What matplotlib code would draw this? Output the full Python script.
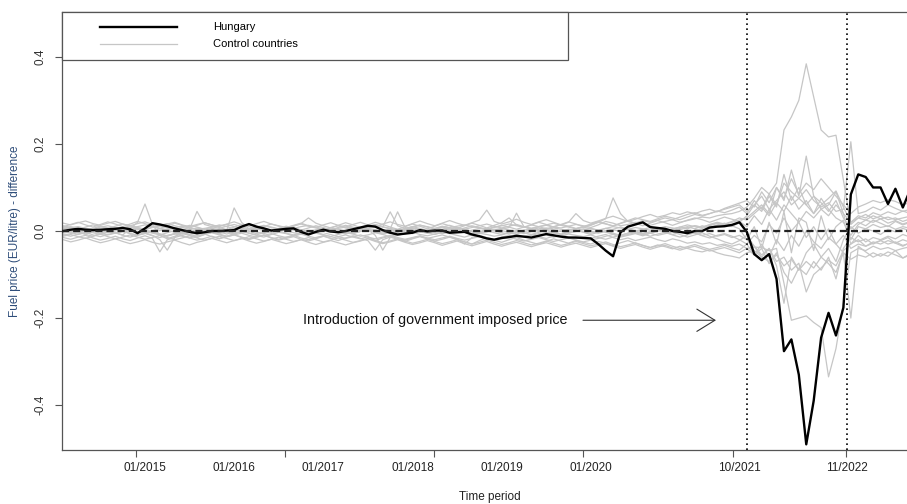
#!/usr/bin/env python3
'''fuel price difference: Hungary vs control countries'''

import numpy as np
import matplotlib
matplotlib.use('Agg')

import matplotlib.pyplot as plt
from matplotlib.patches import Rectangle, FancyArrowPatch

plt.rcParams['font.family'] = ['Liberation Sans', 'DejaVu Sans']

# months counted from 01/2015 (0 = Jan 2015), 02/2014 .. 08/2023
months = np.arange(-11, 104)

# price differences in thousandths of EUR per litre
hungary = [
    0, 3, 5, 3, 2, 3, 4, 5, 7, 4,
    -5, 6, 18, 15, 11, 6, 2, -2, -5, -3,
    0, 0, 1, 2, 10, 16, 10, 6, 1, 3,
    5, 6, -2, -8, -2, 3, -1, -3, 0, 4,
    8, 12, 10, 2, -4, -8, -6, -4, 2, -1,
    1, 1, -4, -3, -2, -8, -12, -17, -20, -16,
    -14, -11, -13, -15, -11, -7, -10, -13, -15, -15,
    -16, -17, -30, -45, -58, -3, 10, 15, 20, 9,
    7, 5, 0, -2, -5, 0, 0, 8, 10, 11,
    14, 20, -2, -53, -67, -53, -110, -276, -249, -330,
    -490, -390, -245, -188, -240, -176, 84, 130, 124, 100,
    100, 62, 97, 54, 95,
]

control_1 = [
    5, 8, 10, 6, 4, 9, 12, 8, 5, 7,
    10, 14, 9, 6, 3, 8, 11, 7, 4, 6,
    9, 12, 15, 10, 6, 4, 8, 11, 9, 5,
    3, 6, 10, 13, 9, 5, 2, 6, 9, 7,
    4, 8, 12, 9, 6, 3, 5, 9, 13, 10,
    6, 4, 8, 11, 14, 10, 7, 5, 9, 12,
    16, 12, 9, 6, 10, 13, 9, 7, 11, 15,
    12, 8, 14, 22, 18, 12, 15, 20, 17, 13,
    18, 22, 26, 20, 24, 28, 32, 30, 35, 38,
    40, 45, 55, 75, 100, 85, 110, 232, 262, 300,
    384, 308, 232, 216, 220, 117, 15, 30, 25, 35,
    28, 32, 26, 30, 34,
]
control_2 = [
    -5, -2, 3, 1, -4, -8, -3, 2, 0, -6,
    -9, -4, 1, 5, 2, -3, -7, -2, 4, 1,
    -3, -6, -1, 3, 0, -5, -9, -4, 2, 5,
    1, -4, -7, -2, 3, 6, 1, -3, -6, -1,
    4, 2, -3, -7, -4, 0, 5, 2, -2, -5,
    -1, 3, 6, 2, -3, -6, -2, 4, 1, -4,
    -7, -3, 2, 5, 1, -3, -5, 0, 4, 2,
    -2, -5, 0, 6, 3, -1, 4, 8, 5, 2,
    6, 10, 7, 3, 8, 12, 9, 14, 18, 15,
    20, 25, 30, 45, 60, 40, 100, 70, 140, 80,
    172, 80, 50, 60, 90, 40, -20, 10, 5, 15,
    8, 12, 4, 10, 6,
]
control_3 = [
    -10, -6, -2, -8, -12, -5, 0, -4, -9, 5,
    20, 62, 15, -10, -18, -12, -6, -10, -15, -8,
    -3, -7, -12, -6, -1, -5, -10, -14, -8, -3,
    -6, -11, -7, -2, -5, -9, -13, -8, -4, -7,
    -12, -9, -4, -8, -13, -10, -6, -3, -8, -11,
    -7, -3, -6, -10, -14, -9, -5, -8, -12, -9,
    -4, -8, -13, -10, -6, -9, -14, -11, -7, -10,
    -13, -17, -12, -8, -15, -20, -16, -22, -18, -14,
    -20, -24, -18, -22, -28, -25, -30, -27, -33, -30,
    -35, -30, -40, -37, -38, -45, -40, -120, -205, -200,
    -195, -210, -222, -335, -270, -166, -50, -40, -45, -35,
    -42, -38, -45, -40, -36,
]
control_4 = [
    8, 3, -2, 2, 6, 1, -4, 0, 5, 9,
    4, -1, -5, -9, -4, 1, -3, -8, -4, 2,
    6, 3, -2, -6, -1, 4, 8, 3, -2, 1,
    5, 2, -3, -7, -2, 3, 7, 4, -1, -5,
    -1, 3, -10, -44, -15, -3, 2, 6, 1, -4,
    -8, -3, 2, 6, 3, -2, -6, -1, 4, 1,
    -3, -7, -2, 3, 7, 2, -4, -8, -3, 1,
    5, 0, -5, -1, 4, 9, 5, 0, -6, -2,
    3, -3, -8, -4, 2, -5, -10, -6, -12, -8,
    -15, -10, -20, -35, -55, -40, -70, -60, -90, -74,
    -140, -100, -85, -67, -80, -45, -30, -20, -35, -28,
    -22, -30, -25, -33, -28,
]
control_5 = [
    -3, 1, 4, 0, -3, 2, 6, 3, -1, 2,
    5, 1, -3, -7, -12, -6, -1, 3, 7, 4,
    0, -4, 2, 53, 20, 5, -2, -6, -1, 3,
    7, 3, -1, -5, 0, 4, 1, -3, -7, -2,
    2, 6, 3, -2, -6, -2, 3, 7, 4, 0,
    -4, 0, 5, 8, 4, -1, -5, -2, 3, 6,
    2, -2, -6, -1, 4, 7, 3, -1, -5, -1,
    3, 6, 2, -3, -7, -12, -8, -4, -9, -5,
    -10, -6, -2, -8, -14, -9, -4, -12, -18, -25,
    -30, -22, -10, -35, -60, -40, -80, -166, -60, -90,
    -50, -30, -60, -40, -70, -20, 10, -5, 5, 0,
    -8, 4, -2, 6, 0,
]
control_6 = [
    12, 8, 4, 9, 14, 10, 6, 11, 16, 12,
    8, 4, 9, 13, 17, 12, 8, 4, 45, 15,
    10, 6, 11, 15, 10, 5, 9, 13, 8, 4,
    8, 12, 16, 11, 7, 3, 8, 12, 7, 3,
    7, 11, 15, 10, 44, 12, 6, 10, 14, 9,
    5, 9, 13, 8, 4, 8, 12, 16, 11, 7,
    11, 15, 10, 6, 10, 14, 18, 13, 9, 5,
    9, 13, 20, 28, 76, 40, 22, 18, 24, 20,
    25, 30, 26, 32, 38, 42, 36, 40, 45, 50,
    55, 60, 45, 60, 80, 50, 70, 90, 60, 75,
    95, 70, 55, 65, 45, 50, 205, 40, 45, 55,
    48, 60, 52, 45, 50,
]
control_7 = [
    -15, -19, -14, -10, -16, -21, -17, -12, -18, -22,
    -16, -11, -17, -48, -20, -15, -10, -16, -21, -17,
    -12, -18, -13, -9, -15, -20, -14, -10, -16, -21,
    -17, -13, -19, -23, -18, -12, -17, -22, -16, -11,
    -17, -22, -44, -20, -14, -19, -24, -18, -13, -18,
    -23, -19, -14, -20, -25, -30, -22, -16, -21, -26,
    -20, -15, -21, -26, -31, -24, -18, -23, -28, -22,
    -26, -30, -24, -28, -34, -27, -22, -28, -33, -38,
    -32, -36, -41, -35, -40, -45, -48, -43, -50, -55,
    -58, -62, -50, -45, -60, -70, -55, -80, -65, -90,
    -70, -85, -60, -75, -95, -50, -200, -35, -48, -60,
    -52, -58, -45, -62, -55,
]
control_8 = [
    2, -1, -4, 1, 5, 2, -2, -5, -1, 3,
    6, 2, -2, 1, 4, 8, 4, 0, -3, 1,
    4, 1, -3, -6, -2, 2, 5, 1, -3, 0,
    3, 7, 3, -1, -4, 0, 4, 1, -2, 2,
    6, 2, -2, 1, 5, 44, 8, 2, -2, 1,
    5, 9, 5, 1, -2, 2, 6, 3, 0, 4,
    8, 41, 10, 3, -1, 3, 7, 4, 1, 5,
    9, 5, 2, 6, 10, 7, 3, 0, 4, 8,
    5, 1, 5, 9, 14, 10, 6, 12, 18, 15,
    10, 20, 35, 60, 45, 80, 55, 130, 70, 100,
    60, 40, 75, 50, 30, 20, -10, 15, 25, 20,
    28, 18, 24, 16, 22,
]
control_9 = [
    -8, -12, -7, -3, -9, -13, -8, -4, -10, -14,
    -9, -5, -11, -15, -10, -6, -12, -16, -11, -7,
    -13, -17, -12, -8, -14, -18, -13, -9, -15, -19,
    -14, -10, -16, -20, -15, -11, -17, -13, -9, -14,
    -18, -13, -22, -16, -12, -17, -21, -16, -12, -17,
    -13, -9, -14, -18, -30, -15, -10, -15, -19, -14,
    -10, -15, -12, -8, -13, -17, -12, -8, -14, -18,
    -13, -9, -15, -19, -14, -10, -5, -1, -6, -2,
    3, -2, 4, 9, 5, 12, 8, 15, 20, 16,
    22, 30, 25, 40, 55, 35, 65, 45, 80, 50,
    70, 40, 60, 75, 92, 55, 20, 35, 30, 42,
    36, 44, 38, 46, 40,
]
control_10 = [
    18, 14, 19, 23, 17, 13, 18, 22, 16, 12,
    17, 21, 15, 11, 16, 20, 14, 10, 15, 19,
    14, 10, 16, 21, 15, 11, 17, 22, 16, 12,
    8, 13, 18, 12, 8, 14, 19, 13, 9, 15,
    20, 14, 10, 16, 21, 15, 11, 17, 23, 17,
    12, 18, 24, 18, 13, 19, 25, 48, 22, 16,
    21, 27, 20, 15, 21, 26, 20, 14, 20, 40,
    24, 18, 23, 29, 34, 28, 22, 27, 33, 38,
    32, 36, 42, 38, 44, 40, 46, 50, 44, 52,
    58, 64, 70, 55, 90, 65, 100, 75, 120, 85,
    110, 95, 120, 100, 80, 60, 40, 55, 62, 70,
    65, 72, 68, 60, 66,
]
control_11 = [
    -2, 2, -3, -7, -2, 3, -1, -5, 0, 4,
    -1, -5, -10, -20, -44, -15, 1, -3, -8, -3,
    2, -2, -7, -2, 3, -1, -6, -1, 4, 0,
    -5, -9, -4, 1, -3, -8, -3, 2, -2, -6,
    -1, 4, 0, -5, -1, 3, -2, -6, -2, 3,
    -1, -6, -2, 2, -2, -7, -3, 1, -4, -8,
    -3, 1, -4, -8, -3, 2, -3, -7, -2, 2,
    -3, -8, -3, 1, -5, -10, -5, -1, -7, -12,
    -7, -3, -9, -14, -9, -4, -11, -16, -10, -6,
    -12, -20, -30, -55, -40, -75, -50, -95, -120, -85,
    -100, -70, -90, -60, -110, -40, -15, -25, -18, -30,
    -22, -15, -28, -20, -26,
]
control_12 = [
    6, 10, 5, 1, 6, 11, 7, 2, 7, 12,
    8, 3, 8, 12, 7, 3, 8, 13, 9, 4,
    9, 14, 10, 5, 10, 15, 11, 6, 1, 6,
    11, 7, 2, 7, 12, 8, 3, 8, 13, 9,
    4, 9, 14, 10, 5, 0, 5, 10, 6, 1,
    6, 11, 7, 2, 7, 12, 8, 3, 8, 13,
    9, 4, 9, 14, 10, 5, 10, 15, 11, 6,
    10, 14, 20, 16, 12, 18, 24, 30, 26, 22,
    28, 34, 30, 26, 32, 38, 34, 40, 46, 42,
    48, 55, 40, 70, 50, 85, 60, 110, 90, 75,
    60, 80, 65, 45, 70, 30, 5, 20, 12, 25,
    18, 10, 22, 14, 20,
]
control_13 = [
    -20, -25, -21, -16, -22, -27, -23, -18, -24, -29,
    -25, -20, -26, -30, -25, -21, -27, -32, -26, -22,
    -17, -22, -27, -22, -17, -23, -28, -24, -19, -24,
    -29, -25, -20, -26, -31, -26, -22, -27, -32, -27,
    -23, -18, -24, -29, -25, -20, -26, -31, -27, -22,
    -27, -33, -28, -23, -29, -34, -29, -24, -30, -35,
    -30, -26, -31, -36, -31, -27, -32, -37, -32, -28,
    -33, -38, -33, -29, -35, -40, -35, -31, -37, -42,
    -37, -33, -39, -44, -39, -35, -41, -46, -42, -38,
    -44, -50, -40, -55, -30, -60, -20, -45, -10, -35,
    0, -25, -40, -15, -30, -50, -65, -55, -60, -50,
    -58, -48, -55, -62, -52,
]
control_14 = [
    1, -3, -8, -4, 0, -5, -9, -5, -1, -6,
    -10, -6, -2, -7, -11, -7, -3, -8, -12, -8,
    -4, -9, -13, -9, -5, -10, -14, -10, -6, -11,
    -15, -11, -7, -12, -16, -12, -8, -13, -17, -13,
    -9, -14, -18, -14, -10, -15, -19, -15, -11, -16,
    -20, -16, -12, -17, -21, -17, -13, -18, -22, -18,
    -14, -19, -23, -19, -15, -20, -24, -20, -16, -21,
    -25, -21, -17, -12, -8, -14, -10, -6, -11, -5,
    -1, 4, 0, 6, 10, 5, 12, 8, 14, 18,
    12, 5, -20, 10, -40, 20, -30, 45, -50, 30,
    20, -45, 35, -20, 10, 25, -30, -10, -25, -15,
    -20, -12, -18, -8, -14,
]
control_15 = [
    10, 15, 20, 14, 9, 15, 21, 16, 10, 16,
    22, 17, 11, 6, 12, 18, 13, 7, 13, 19,
    14, 8, 3, 9, 15, 10, 4, 10, 16, 11,
    5, 11, 17, 30, 18, 12, 7, 13, 19, 14,
    8, 14, 20, 15, 9, 4, 10, 16, 11, 5,
    11, 17, 12, 6, 12, 18, 13, 7, 13, 19,
    30, 14, 8, 14, 20, 15, 9, 15, 21, 16,
    10, 16, 22, 17, 11, 17, 23, 18, 12, 18,
    24, 19, 13, 19, 25, 30, 26, 20, 26, 32,
    27, 22, 10, 35, 15, 50, 25, 60, 40, 20,
    45, 30, 50, 35, 60, 40, 20, 30, 38, 28,
    34, 26, 30, 22, 28,
]
control_16 = [
    -12, -8, -13, -17, -12, -7, -13, -18, -14, -9,
    -14, -19, -15, -10, -15, -20, -16, -11, -16, -21,
    -17, -12, -17, -22, -18, -13, -18, -23, -19, -14,
    -19, -24, -20, -15, -20, -25, -21, -16, -21, -26,
    -22, -17, -22, -27, -23, -18, -23, -28, -24, -19,
    -24, -29, -25, -20, -25, -30, -26, -21, -26, -31,
    -27, -22, -27, -32, -28, -23, -28, -33, -29, -24,
    -29, -34, -30, -25, -31, -36, -32, -27, -33, -38,
    -34, -29, -35, -40, -36, -31, -37, -42, -38, -33,
    -39, -44, -30, -10, -25, 15, -5, 30, 0, 20,
    -15, 10, -20, 5, -30, -10, -40, -30, -35, -25,
    -30, -22, -28, -35, -26,
]

controls = [control_1, control_2, control_3, control_4, control_5, control_6,
            control_7, control_8, control_9, control_10, control_11,
            control_12, control_13, control_14, control_15, control_16]

# policy period: price cap introduced / lifted
cap_start = 81
cap_end = 94.5

axis_ticks = [-1.2, 18.8, 38.9, 58.9, 79.1, 94.4]
label_pos = [0, 12, 24, 36, 48, 60, 80, 94.5]
label_txt = ["01/2015", "01/2016", "01/2017", "01/2018", "01/2019",
             "01/2020", "10/2021", "11/2022"]
y_ticks = [-0.4, -0.2, 0.0, 0.2, 0.4]


def main():
    W, H = 907, 504
    fig = plt.figure(figsize=(W / 100, H / 100), dpi=100)
    ax = fig.add_axes([62 / W, 54 / H, (W - 62) / W, 438 / H])

    for c in controls:
        ax.plot(months, np.array(c) / 1000, color='#c6c6c6', lw=0.9, zorder=2)
    ax.plot(months, np.array(hungary) / 1000, color='black', lw=1.7, zorder=4)

    ax.axhline(0, color='#222222', lw=1.6, ls=(0, (3.2, 1.8)), zorder=5)
    for xv in (cap_start, cap_end):
        ax.axvline(xv, color='black', lw=1.2, ls=(0, (1, 2)), zorder=5)

    ax.set_xlim(-11.17, 102.56)
    ax.set_ylim(-0.503, 0.503)

    # axis frame, right side falls off the canvas
    for s in ('left', 'bottom', 'top'):
        ax.spines[s].set_color('#555555')
        ax.spines[s].set_linewidth(0.9)
    ax.spines['right'].set_visible(False)

    ax.set_xticks(axis_ticks)
    ax.set_xticklabels([])
    ax.set_xticks(label_pos, label_txt, minor=True)
    ax.tick_params(axis='x', which='major', length=5, width=0.8,
                   color='#555555', direction='out')
    ax.tick_params(axis='x', which='minor', length=0, pad=8.5,
                   labelsize=8.5, labelcolor='#222222')

    ax.set_yticks(y_ticks)
    ax.set_yticklabels(["-0.4", "-0.2", "0.0", "0.2", "0.4"],
                       rotation=90, va='center')
    ax.tick_params(axis='y', length=5, width=0.8, color='#555555',
                   labelsize=8.5, labelcolor='#333333', pad=6)

    fig.text(490 / W, 1 - 497 / H, "Time period", ha='center', va='center',
             fontsize=8.5, color='#222222')
    fig.text(15 / W, 1 - 231 / H, "Fuel price (EUR/litre) - difference",
             rotation=90, ha='center', va='center', fontsize=8.5,
             color='#2e4d7a')

    # legend box drawn in axes fraction
    box = Rectangle((0, 0.8904), 0.5988, 0.1096, transform=ax.transAxes,
                    facecolor='white', edgecolor='#555555', lw=0.9,
                    zorder=10, clip_on=False)
    ax.add_patch(box)
    ax.plot([0.045, 0.136], [0.9658, 0.9658], transform=ax.transAxes,
            color='black', lw=1.7, zorder=11)
    ax.plot([0.045, 0.136], [0.927, 0.927], transform=ax.transAxes,
            color='#c6c6c6', lw=0.9, zorder=11)
    ax.text(0.1787, 0.9658, "Hungary", transform=ax.transAxes,
            va='center', fontsize=8, zorder=11)
    ax.text(0.1787, 0.927, "Control countries", transform=ax.transAxes,
            va='center', fontsize=8, zorder=11)

    ax.text(21.27, -0.205, "Introduction of government imposed price",
            va='center', ha='left', fontsize=10.3, color='#111111')
    arrow = FancyArrowPatch((58.95, -0.205), (76.85, -0.205),
                            arrowstyle='->,head_length=0.65,head_width=0.4',
                            mutation_scale=20, color='#333333', lw=0.8,
                            shrinkA=0, shrinkB=0)
    ax.add_patch(arrow)

    fig.savefig("out.png", dpi=100)


if __name__ == "__main__":
    main()
